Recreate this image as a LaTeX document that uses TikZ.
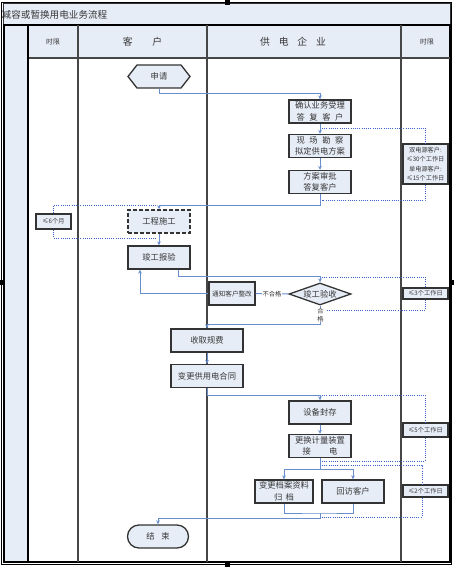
\documentclass[tikz,border=0pt]{standalone}
\usepackage{fontspec}
\newfontfamily\cjk{Noto Sans CJK SC}
\usetikzlibrary{shapes.geometric,shapes.misc,shapes.symbols,arrows.meta}
\definecolor{lb}{RGB}{231,237,247}
\definecolor{bd}{RGB}{51,51,51}
\definecolor{fl}{RGB}{104,142,206}
\definecolor{dt}{RGB}{60,100,200}
\definecolor{tx}{RGB}{55,55,55}
\definecolor{ln}{RGB}{70,70,70}
\tikzset{
  box/.style={draw=bd, fill=lb, line width=1.3pt, minimum width=62pt, minimum height=23pt,
    inner sep=0.5pt, align=center, text=tx, font=\cjk\fontsize{8.3}{11.5}\selectfont},
  tbox/.style={draw=bd, fill=lb, line width=1.2pt, inner sep=0.5pt, minimum width=45pt,
    align=center, text=tx, font=\cjk\fontsize{6.2}{9.3}\selectfont},
  flow/.style={draw=fl, line width=1pt, -{Stealth[length=4pt,width=3.6pt]}},
  flowline/.style={draw=fl, line width=1pt},
  tdot/.style={draw=dt, line width=0.8pt, dash pattern=on 1pt off 1.2pt},
  lane/.style={draw=ln, line width=1.6pt},
  hdr/.style={text=tx, inner sep=0pt},
  lbl/.style={fill=white, text=tx, inner sep=1pt, font=\cjk\fontsize{6.3}{8}\selectfont, align=center},
  handle/.style={fill=black, draw=none},
}
\begin{document}
\begin{tikzpicture}[x=1pt, y=-1pt]
\useasboundingbox (0,0) rectangle (454,567);
% frame
\fill[white] (0,0) rectangle (454,567);
\draw[black, line width=1pt] (1.5,3) rectangle (451.5,564);
\draw[bd, fill=lb, line width=1pt] (3,3.5) rectangle (450.5,25);
\node[anchor=west, hdr, font=\cjk\fontsize{9.6}{11}\selectfont] (title) at (1.5,14.5) {减容或暂换用电业务流程};
\fill[lb] (4,25) rectangle (28,561);
\fill[lb] (28,25) rectangle (450,58);
\draw[black, line width=1.2pt] (4,25) rectangle (450,562);
\draw[lane] (28,58) -- (450,58);
\draw[black, line width=1.6pt] (28,25) -- (28,562);
\draw[lane] (78,25) -- (78,562);
\draw[lane] (207,25) -- (207,562);
\draw[lane] (401,25) -- (401,562);
% handles
\fill[handle] (225,0.5) rectangle (230,5);
\fill[handle] (225,561) rectangle (230,567);
\fill[handle] (0,280) rectangle (5,285);
\fill[handle] (449,280) rectangle (454,285);
% headers
\node[hdr, font=\cjk\fontsize{6.8}{8}\selectfont] (h1) at (53,42) {时限};
\node[hdr, font=\cjk\fontsize{9.8}{11}\selectfont] (h2) at (142.5,42) {客\hspace{2em}户};
\node[hdr, font=\cjk\fontsize{9.8}{11}\selectfont] (h3) at (293,42) {供\hspace{0.9em}电\hspace{0.9em}企\hspace{0.9em}业};
\node[hdr, font=\cjk\fontsize{6.8}{8}\selectfont] (h4) at (427,42) {时限};
% client column
\node[box, signal, signal to=west and east, signal from=nowhere, signal pointer angle=104] (apply) at (159,76.5) {申请};
\node[box, dash pattern=on 4pt off 2pt, line width=1.4pt] (build) at (159,221.5) {工程施工};
\node[box] (report) at (159,257.5) {竣工报验};
\node[box, rounded rectangle] (end) at (158,536.5) {结\hspace{0.8em}束};
% supplier column
\node[box] (n1) at (320,111.5) {确认业务受理\\答\hspace{0.55em}复\hspace{0.55em}客\hspace{0.55em}户};
\node[box] (n2) at (320,146) {现\hspace{0.55em}场\hspace{0.55em}勘\hspace{0.55em}察\\拟定供电方案};
\node[box] (n3) at (320,182) {方案审批\\答复客户};
\node[box, diamond, aspect=2.8, minimum width=62pt, minimum height=22pt, inner sep=0pt] (check) at (320,294) {竣工验收};
\node[box, minimum width=46pt, font=\cjk\fontsize{6.6}{8}\selectfont] (notice) at (232,293.5) {通知客户整改};
\node[box, minimum width=72pt] (fee) at (207,340.5) {收取规费};
\node[box, minimum width=72pt] (contract) at (207,376) {变更供用电合同};
\node[box] (seal) at (320,412.5) {设备封存};
\node[box] (meter) at (320,446) {更换计量装置\\接\hspace{2.2em}电};
\node[box, minimum width=58pt] (archive) at (284,491.5) {变更档案资料\\归\hspace{0.4em}档};
\node[box] (visit) at (353,491.5) {回访客户};
% time boxes
\node[tbox, minimum width=35pt, minimum height=15pt] (t6) at (53.5,221.5) {≤6个月};
\node[tbox, minimum height=40pt] (tdual) at (425.5,164) {双电源客户:\\≤30个工作日\\单电源客户:\\≤15个工作日};
\node[tbox, minimum height=11pt] (t3) at (425.5,293.5) {≤3个工作日};
\node[tbox, minimum height=14pt] (t5) at (425.5,430) {≤5个工作日};
\node[tbox, minimum height=12pt] (t2) at (425.5,491) {≤2个工作日};
% flow connectors
\coordinate (j1) at (320,94);
\draw[flow] (apply.south) |- (j1) -- (n1.north);
\draw[flow] (n1) -- (n2);
\draw[flow] (n2) -- (n3);
\coordinate (j2) at (320,205);
\draw[flow] (n3.south) -- (j2) -| (build.north);
\draw[flow] (build) -- (report);
\coordinate (j3) at (320,276);
\draw[flow] ([xshift=19pt]report.south) |- (j3) -- (check.north);
\draw[flowline] (check.west) -- node[lbl] (ng) {不合格} (notice.east);
\draw[flow] (notice.west) -| ([xshift=-19pt]report.south);
\coordinate (j4) at (320,324);
\draw[flow] (check.south) -- (j4) -| (fee.north);
\node[lbl, font=\cjk\fontsize{6.3}{8.5}\selectfont, inner sep=0.3pt] (ok) at (320.5,315) {合\\格};
\draw[flow] (fee) -- (contract);
\coordinate (j5) at (320,395);
\draw[flow] (contract.south) |- (j5) -- (seal.north);
\draw[flow] (seal) -- (meter);
\coordinate (j6) at (320,469);
\draw[flowline] (meter.south) -- (j6);
\draw[flow] (j6) -| (archive.north);
\draw[flow] (j6) -| (visit.north);
\coordinate (j7) at (320,513);
\draw[flowline] (archive.south) |- (j7) -| (visit.south);
\coordinate (j8) at (320,518);
\draw[flow] (j7) -- (j8) -| (end.north);
% time dotted brackets
\coordinate (d1) at (322,128);
\coordinate (d2) at (322,200);
\draw[tdot] (d1) -| (tdual.north);
\draw[tdot] (tdual.south) |- (d2);
\coordinate (d3) at (157,205);
\coordinate (d4) at (157,238);
\draw[tdot] (t6.north) |- (d3);
\draw[tdot] (t6.south) |- (d4);
\coordinate (d5) at (322,277);
\coordinate (d6) at (326,310);
\draw[tdot] (d5) -| (t3.north);
\draw[tdot] (t3.south) |- (d6);
\coordinate (d7) at (322,395);
\coordinate (d8) at (322,461);
\draw[tdot] (d7) -| ([xshift=-0.5pt]t5.north);
\draw[tdot] ([xshift=-0.5pt]t5.south) |- (d8);
\coordinate (d9) at (322,465);
\coordinate (d10) at (322,517);
\draw[tdot] (d9) -| ([xshift=-3.5pt]t2.north);
\draw[tdot] ([xshift=-3.5pt]t2.south) |- (d10);
\end{tikzpicture}
\end{document}
